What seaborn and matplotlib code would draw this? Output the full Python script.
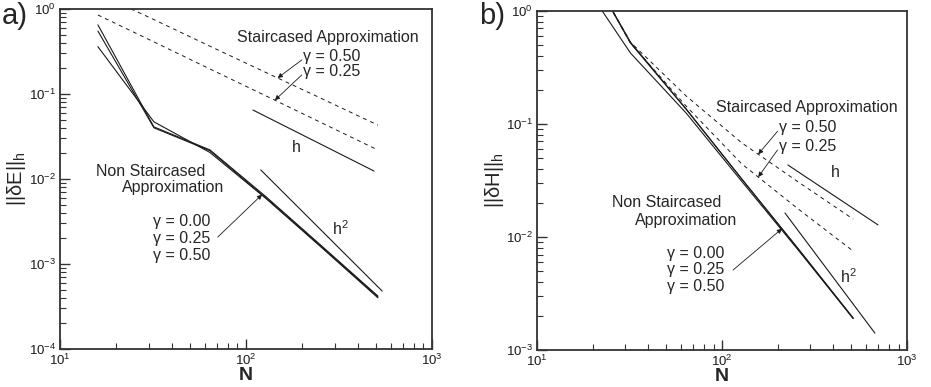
import numpy as np
import matplotlib
matplotlib.use("Agg")
import matplotlib.pyplot as plt
import seaborn as sns

# ── Config ────────────────────────────────────────────────────────
sns.set_theme(style="ticks")
plt.rcParams["font.family"] = ["Liberation Sans", "DejaVu Sans"]
plt.rcParams["mathtext.default"] = "regular"
plt.rcParams.update({"axes.edgecolor": "#333333", "axes.linewidth": 1.3})

TXT = 11.5
LW = 0.8
DASH = (0, (4, 4))

# ── Dados: painel a) ||dE||_h ─────────────────────────────────────
N_A = [16, 32, 64, 128, 256, 512]
NS_A_000 = [0.65, 0.041, 0.022, 0.0062, 0.00162, 0.00042]
NS_A_025 = [0.55, 0.040, 0.0215, 0.0060, 0.00158, 0.00041]
NS_A_050 = [0.36, 0.047, 0.0205, 0.0059, 0.00155, 0.00040]
ST_A_050 = [1.52, 0.75, 0.365, 0.179, 0.088, 0.043]
ST_A_025 = [0.85, 0.41, 0.197, 0.095, 0.0456, 0.0219]
H_A_N, H_A = [109, 488], [0.0648, 0.0124]
H2_A_N, H2_A = [120, 540], [0.0128, 0.00048]

# ── Dados: painel b) ||dH||_h ─────────────────────────────────────
N_B = [16, 32, 64, 128, 256, 512]
NS_B_000 = [2.3, 0.425, 0.125, 0.031, 0.0078, 0.0019]
NS_B_025 = [3.9, 0.53, 0.136, 0.0326, 0.0080, 0.00192]
NS_B_050 = [3.9, 0.52, 0.135, 0.0325, 0.0080, 0.00190]
ST_B_050 = [3.9, 0.53, 0.177, 0.068, 0.031, 0.0144]
ST_B_025 = [3.9, 0.52, 0.144, 0.0443, 0.0179, 0.0075]
H_B_N, H_B = [227, 697], [0.0434, 0.0128]
H2_B_N, H2_B = [219, 671], [0.0163, 0.00141]

GAMMA_NS = ["γ = 0.00", "γ = 0.25", "γ = 0.50"]
GAMMA_ST = ["γ = 0.50", "γ = 0.25"]


def on_line(n, ns, vals):
    return 10 ** np.interp(np.log10(n), np.log10(ns), np.log10(vals))


def arrow(ax, n, ns, vals, fx, fy):
    ax.annotate("", xy=(n, on_line(n, ns, vals)), xytext=(fx, fy),
                textcoords="axes fraction",
                arrowprops=dict(arrowstyle="-|>", lw=0.6, color="k",
                                mutation_scale=7, shrinkA=0, shrinkB=0))


def setup(ax, ylim, ylabel, lx):
    ax.set(xscale="log", yscale="log", xlim=(10, 1000), ylim=ylim)
    ax.tick_params(which="both", direction="in", top=False, right=False,
                   labelsize=9.5, pad=3, colors="#333333", labelcolor="k")
    ax.tick_params(which="major", length=7, width=1.0)
    ax.tick_params(which="minor", length=4, width=0.8)
    ax.set_xlabel("N", fontsize=14, fontweight="bold", labelpad=-1)
    ax.set_ylabel(ylabel, fontsize=14.5)
    ax.yaxis.set_label_coords(lx, 0.5)


def draw(ax, ns, series, style, lw=LW):
    for vals in series:
        sns.lineplot(x=ns, y=vals, ax=ax, color="k", lw=lw, ls=style,
                     legend=False, sort=False)


fig = plt.figure(figsize=(9.31, 3.87), dpi=100)
ax_a = fig.add_axes([0.0644, 0.0982, 0.3996, 0.8786])
ax_b = fig.add_axes([0.5768, 0.0956, 0.3974, 0.8760])

# ── Painel a) ─────────────────────────────────────────────────────
setup(ax_a, (1e-4, 1), r"$||\delta E||_h$", -0.086)
draw(ax_a, N_A, [NS_A_000, NS_A_025, NS_A_050], "-")
draw(ax_a, N_A, [ST_A_050, ST_A_025], DASH, 0.7)
draw(ax_a, H_A_N, [H_A], "-")
draw(ax_a, H2_A_N, [H2_A], "-")

ax_a.text(0.72, 0.915, "Staircased Approximation", transform=ax_a.transAxes,
          ha="center", va="center", fontsize=TXT)
for i, g in enumerate(GAMMA_ST):
    ax_a.text(0.653, 0.859 - 0.044 * i, g, transform=ax_a.transAxes,
              ha="left", va="center", fontsize=TXT)
arrow(ax_a, 148, N_A, ST_A_050, 0.650, 0.850)
arrow(ax_a, 143, N_A, ST_A_025, 0.650, 0.806)
ax_a.text(0.634, 0.594, "h", transform=ax_a.transAxes,
          ha="center", va="center", fontsize=TXT)
ax_a.text(0.753, 0.353, "h$^2$", transform=ax_a.transAxes,
          ha="center", va="center", fontsize=TXT)
ax_a.text(0.245, 0.521, "Non Staircased", transform=ax_a.transAxes,
          ha="center", va="center", fontsize=TXT)
ax_a.text(0.304, 0.474, "Approximation", transform=ax_a.transAxes,
          ha="center", va="center", fontsize=TXT)
for i, g in enumerate(GAMMA_NS):
    ax_a.text(0.25, 0.374 - 0.049 * i, g, transform=ax_a.transAxes,
              ha="left", va="center", fontsize=TXT)
arrow(ax_a, 122, N_A, NS_A_025, 0.424, 0.329)

# ── Painel b) ─────────────────────────────────────────────────────
setup(ax_b, (1e-3, 1), r"$||\delta H||_h$", -0.084)
draw(ax_b, N_B, [NS_B_000, NS_B_025, NS_B_050], "-")
draw(ax_b, N_B, [ST_B_050, ST_B_025], DASH, 0.7)
draw(ax_b, H_B_N, [H_B], "-")
draw(ax_b, H2_B_N, [H2_B], "-")

ax_b.text(0.730, 0.714, "Staircased Approximation", transform=ax_b.transAxes,
          ha="center", va="center", fontsize=TXT)
for i, g in enumerate(GAMMA_ST):
    ax_b.text(0.654, 0.655 - 0.056 * i, g, transform=ax_b.transAxes,
              ha="left", va="center", fontsize=TXT)
arrow(ax_b, 157, N_B, ST_B_050, 0.650, 0.645)
arrow(ax_b, 157, N_B, ST_B_025, 0.650, 0.590)
ax_b.text(0.805, 0.525, "h", transform=ax_b.transAxes,
          ha="center", va="center", fontsize=TXT)
ax_b.text(0.841, 0.215, "h$^2$", transform=ax_b.transAxes,
          ha="center", va="center", fontsize=TXT)
ax_b.text(0.351, 0.434, "Non Staircased", transform=ax_b.transAxes,
          ha="center", va="center", fontsize=TXT)
ax_b.text(0.404, 0.383, "Approximation", transform=ax_b.transAxes,
          ha="center", va="center", fontsize=TXT)
for i, g in enumerate(GAMMA_NS):
    ax_b.text(0.351, 0.286 - 0.050 * i, g, transform=ax_b.transAxes,
              ha="left", va="center", fontsize=TXT)
arrow(ax_b, 211, N_B, NS_B_025, 0.530, 0.236)

fig.text(0.002, 0.995, "a)", ha="left", va="top", fontsize=21)
fig.text(0.515, 0.995, "b)", ha="left", va="top", fontsize=21)

fig.savefig("out.png", dpi=100)
